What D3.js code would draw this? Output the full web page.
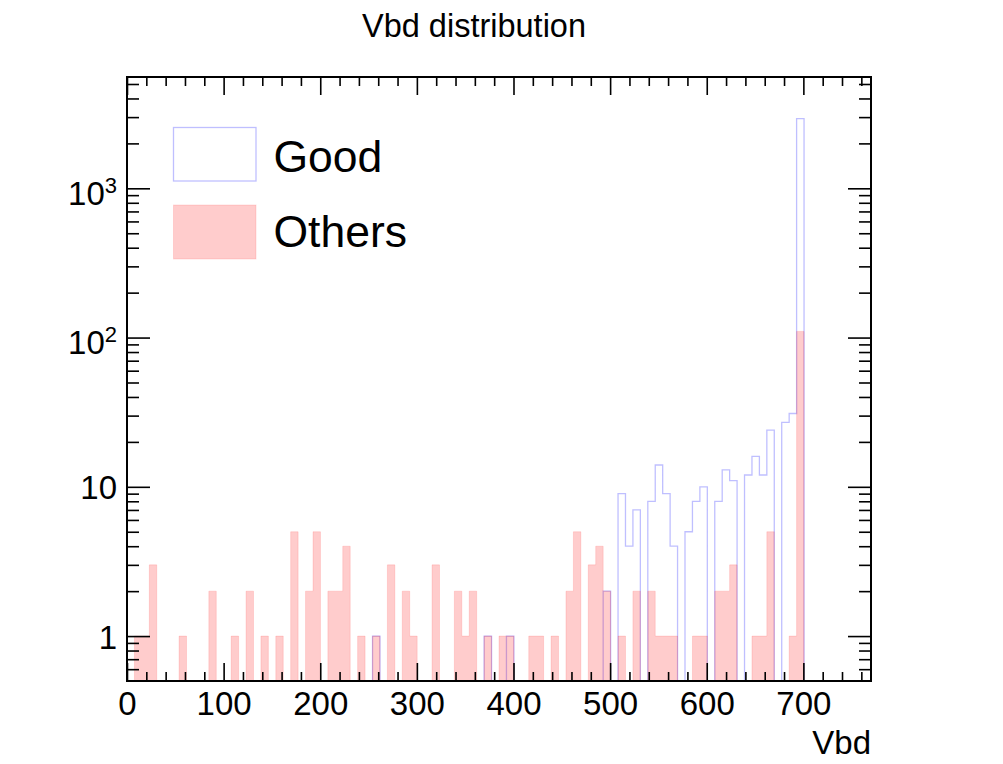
<!DOCTYPE html>
<html>
<head>
<meta charset="utf-8">
<script src="https://cdn.jsdelivr.net/npm/d3@7"></script>
<style>
  body { margin: 0; background: #fff; }
  text { font-family: "Liberation Sans", Arial, Helvetica, sans-serif; }
</style>
</head>
<body>
<div id="vi1"></div>
<script>
// histogram definition: 100 bins from 0 to 770
var xmin = 0, xmax = 770, nbins = 100;

// counts per bin
var good = [
  0,0,0,0,0,0,0,0,0,0,
  0,0,0,0,0,0,0,0,0,0,
  0,0,0,0,0,0,0,0,0,0,
  0,0,0,1,0,0,0,0,0,0,
  0,0,0,0,0,0,0,0,1,0,
  0,1,0,0,0,0,0,0,0,0,
  0,0,0,0,2,0,9,4,7,0,
  8,14,9,4,0,5,8,10,0,8,
  13,11,0,12,16,12,24,0,27,31,
  2930,0,0,0,0,0,0,0,0,0
];
var others = [
  0,1,1,3,0,0,0,1,0,0,
  0,2,0,0,1,0,2,0,1,0,
  1,0,5,0,2,5,0,2,2,4,
  0,1,0,1,0,3,0,2,1,0,
  0,3,0,0,2,1,2,0,1,0,
  1,1,0,0,1,1,0,1,0,2,
  5,0,3,4,2,0,1,0,2,0,
  2,1,1,1,0,0,1,1,0,2,
  2,3,0,0,1,1,5,0,0,1,
  110,0,0,0,0,0,0,0,0,0
];

var xMajor = [0, 100, 200, 300, 400, 500, 600, 700];
var yMajor = [1, 10, 100, 1000];
var yLabels = [["1", ""], ["10", ""], ["10", "2"], ["10", "3"]];
var legendNames = ["Good", "Others"];

var margin = {top: 77, right: 132, bottom: 83, left: 127},
  W = 1003, H = 764,
  width = W - margin.left - margin.right,
  height = H - margin.top - margin.bottom;

var svg = d3.select("#vi1")
.append("svg")
  .attr("width", W)
  .attr("height", H);

svg.append("rect").attr("width", W).attr("height", H).attr("fill", "#fff");

var g = svg.append("g")
  .attr("transform", "translate(" + margin.left + "," + margin.top + ")");

var x = d3.scaleLinear().domain([xmin, xmax]).range([0, width]);
var y = d3.scaleLog().domain([0.5, 5570]).range([height, 0]);

var bw = (xmax - xmin) / nbins;

svg.append("defs").append("clipPath").attr("id", "frame")
  .append("rect").attr("width", width).attr("height", height);

// step outline of a histogram, zero bins drop to the frame bottom
function steps(counts) {
  var pts = [[x(xmin), height]];
  counts.forEach(function(c, i) {
    var yy = c > 0 ? y(c) : height + 2;
    pts.push([x(xmin + i * bw), yy]);
    pts.push([x(xmin + (i + 1) * bw), yy]);
  });
  pts.push([x(xmax), height]);
  return d3.line()(pts);
}

var plot = g.append("g").attr("clip-path", "url(#frame)");

plot.append("path")
  .attr("d", steps(good))
  .style("fill", "none")
  .style("stroke", "rgba(0,0,255,0.25)")
  .style("stroke-width", 1.3);

plot.append("path")
  .attr("d", steps(others) + "Z")
  .style("fill", "rgba(255,0,0,0.2)")
  .style("stroke", "rgba(255,0,0,0.12)")
  .style("stroke-width", 1);

// axes, ROOT style ticks pointing inwards
function clean(sel) {
  sel.select(".domain").remove();
  sel.selectAll(".tick line").attr("stroke", "#000").attr("stroke-width", 1.6);
}

var xMinor = d3.range(0, xmax + 1, 20).filter(function(d) { return d % 100 != 0; });
var yMinor = [0.6, 0.7, 0.8, 0.9];
[1, 10, 100, 1000].forEach(function(dec) {
  for (var k = 2; k <= 9; k++) if (dec * k < 5570) yMinor.push(dec * k);
});

g.append("g").attr("transform", "translate(0," + height + ")")
  .call(d3.axisBottom(x).tickValues(xMajor).tickSize(-18).tickPadding(10.6))
  .call(clean)
  .selectAll("text")
    .style("font-size", "33px")
    .style("font-family", "'Liberation Sans', Arial, sans-serif")
    .attr("fill", "#000");
g.append("g").attr("transform", "translate(0," + height + ")")
  .call(d3.axisBottom(x).tickValues(xMinor).tickSize(-9).tickFormat(""))
  .call(clean);
g.append("g")
  .call(d3.axisTop(x).tickValues(xMajor).tickSize(-18).tickFormat(""))
  .call(clean);
g.append("g")
  .call(d3.axisTop(x).tickValues(xMinor).tickSize(-9).tickFormat(""))
  .call(clean);

g.append("g")
  .call(d3.axisLeft(y).tickValues(yMajor).tickSize(-23).tickFormat(""))
  .call(clean);
g.append("g")
  .call(d3.axisLeft(y).tickValues(yMinor).tickSize(-12).tickFormat(""))
  .call(clean);
g.append("g").attr("transform", "translate(" + width + ",0)")
  .call(d3.axisRight(y).tickValues(yMajor).tickSize(-23).tickFormat(""))
  .call(clean);
g.append("g").attr("transform", "translate(" + width + ",0)")
  .call(d3.axisRight(y).tickValues(yMinor).tickSize(-12).tickFormat(""))
  .call(clean);

// y labels with exponents
yMajor.forEach(function(v, i) {
  var lab = yLabels[i];
  var t = g.append("text")
    .attr("x", -10)
    .attr("y", y(v) + (lab[1] ? 16.6 : 12.5))
    .style("text-anchor", "end")
    .style("font-size", "33px")
    .text(lab[0]);
  if (lab[1]) {
    t.append("tspan").attr("dy", -12).style("font-size", "22px").text(lab[1]);
  }
});

// frame
g.append("rect")
  .attr("width", width).attr("height", height)
  .style("fill", "none").style("stroke", "#000").style("stroke-width", 2);

// title and axis title
svg.append("text")
  .attr("x", 474).attr("y", 37)
  .style("text-anchor", "middle")
  .style("font-size", "32.5px")
  .text("Vbd distribution");

svg.append("text")
  .attr("x", margin.left + width).attr("y", 754)
  .style("text-anchor", "end")
  .style("font-size", "33px")
  .text("Vbd");

// legend
var leg = svg.append("g").attr("transform", "translate(173.5,127.5)");
leg.append("rect")
  .attr("width", 82.5).attr("height", 53.5)
  .style("fill", "none").style("stroke", "rgba(0,0,255,0.25)").style("stroke-width", 1.3);
leg.append("rect")
  .attr("y", 77.5).attr("width", 82.5).attr("height", 54)
  .style("fill", "rgba(255,0,0,0.2)").style("stroke", "rgba(255,0,0,0.12)");
leg.selectAll("text.lg")
  .data(legendNames).enter()
  .append("text")
  .attr("class", "lg")
  .attr("x", 100)
  .attr("y", function(d, i) { return 44.2 + i * 75.6; })
  .style("font-size", "44.5px")
  .text(function(d) { return d; });
</script>
</body>
</html>
